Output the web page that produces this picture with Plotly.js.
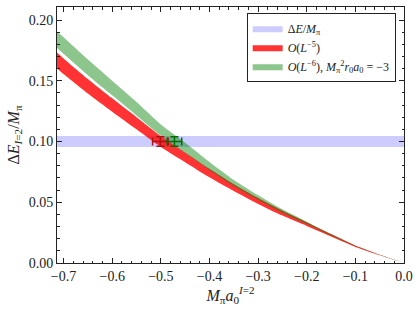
<!DOCTYPE html>
<html>
<head>
<meta charset="utf-8">
<script src="https://cdn.plot.ly/plotly-3.0.1.min.js"></script>
<style>html,body{margin:0;padding:0;background:#fff;}#chart{width:418px;height:310px;}</style>
</head>
<body>
<div id="chart"></div>
<script>
// M_pi a0 grid
const aGrid = [-0.72, -0.7, -0.65, -0.6, -0.55, -0.5, -0.45, -0.4, -0.35, -0.3, -0.25, -0.2, -0.15, -0.1, -0.05, 0];
// O(L^-5) band
const redLow  = [0.1624, 0.1556, 0.1395, 0.1245, 0.1100, 0.0955, 0.0830, 0.0705, 0.0592, 0.0486, 0.0390, 0.0305, 0.0218, 0.0132, 0.0064, 0];
const redHigh = [0.1756, 0.1684, 0.1515, 0.1355, 0.1200, 0.1045, 0.0910, 0.0775, 0.0648, 0.0534, 0.0430, 0.0335, 0.0238, 0.0144, 0.0068, 0];
// O(L^-6), Mpi^2 r0 a0 = -3 band
const greenLow  = [0.1792, 0.1723, 0.1546, 0.1380, 0.1215, 0.1048, 0.0908, 0.0766, 0.0634, 0.0520, 0.0414, 0.0320, 0.0226, 0.0137, 0.0065, 0];
const greenHigh = [0.1928, 0.1857, 0.1674, 0.1500, 0.1325, 0.1140, 0.0990, 0.0832, 0.0684, 0.0558, 0.0442, 0.0340, 0.0238, 0.0143, 0.0069, 0];
// Delta E / M_pi measurement band
const dEX = [-0.75, 0.05];
const dELow = 0.0955, dEHigh = 0.1045;
// extracted points
const ptRedX = [-0.501], ptRedY = [0.100], ptRedXerr = [0.016], ptRedYerr = [0.004];
const ptGreenX = [-0.472], ptGreenY = [0.100], ptGreenXerr = [0.015], ptGreenYerr = [0.004];
// tick labels
const xTicks = [-0.7, -0.6, -0.5, -0.4, -0.3, -0.2, -0.1, 0.0];
const xTickText = ['−0.7', '−0.6', '−0.5', '−0.4', '−0.3', '−0.2', '−0.1', '0.0'];
const yTicks = [0, 0.05, 0.10, 0.15, 0.20];
const yTickText = ['0.00', '0.05', '0.10', '0.15', '0.20'];

function band(x, lo, hi) {
  return { x: x.concat(x.slice().reverse()), y: hi.concat(lo.slice().reverse()) };
}
const rb = band(aGrid, redLow, redHigh);
const gb = band(aGrid, greenLow, greenHigh);
const bb = band(dEX, [dELow, dELow], [dEHigh, dEHigh]);

const serif = 'Liberation Serif, DejaVu Serif, serif';
const traces = [
  { x: bb.x, y: bb.y, type: 'scatter', mode: 'lines', fill: 'toself', fillcolor: 'rgba(0,0,255,0.2)',
    line: { width: 0, color: 'rgba(0,0,255,0.2)' }, name: 'Δ<i>E</i>/<i>M</i><sub>π</sub>', legendrank: 1, hoverinfo: 'skip' },
  { x: rb.x, y: rb.y, type: 'scatter', mode: 'lines', fill: 'toself', fillcolor: 'rgba(255,0,0,0.8)',
    line: { width: 0, color: 'rgba(255,0,0,0.8)', shape: 'spline', smoothing: 0.6 }, name: '<i>O</i>(<i>L</i><sup>−5</sup>)', legendrank: 2, hoverinfo: 'skip' },
  { x: gb.x, y: gb.y, type: 'scatter', mode: 'lines', fill: 'toself', fillcolor: 'rgba(0,128,0,0.45)',
    line: { width: 0, color: 'rgba(0,128,0,0.45)', shape: 'spline', smoothing: 0.6 }, name: '<i>O</i>(<i>L</i><sup>−6</sup>), <i>M</i><sub>π</sub><sup>2</sup><i>r</i><sub>0</sub><i>a</i><sub>0</sub> = −3', legendrank: 3, hoverinfo: 'skip' },
  { x: ptRedX, y: ptRedY, type: 'scatter', mode: 'markers', marker: { size: 1, color: '#b01010' }, showlegend: false,
    error_x: { type: 'data', array: ptRedXerr, color: '#b01010', thickness: 1.5, width: 4 },
    error_y: { type: 'data', array: ptRedYerr, color: '#b01010', thickness: 1.5, width: 4 } },
  { x: ptGreenX, y: ptGreenY, type: 'scatter', mode: 'markers', marker: { size: 1, color: '#007000' }, showlegend: false,
    error_x: { type: 'data', array: ptGreenXerr, color: '#007000', thickness: 1.5, width: 4 },
    error_y: { type: 'data', array: ptGreenYerr, color: '#007000', thickness: 1.5, width: 4 } }
];

const axisCommon = {
  showgrid: false, zeroline: false, showline: true, linecolor: '#222', linewidth: 1, mirror: 'allticks',
  ticks: 'inside', ticklen: 5, tickwidth: 1, tickcolor: '#222',
  tickfont: { family: serif, size: 14, color: '#222' },
};
const layout = {
  width: 418, height: 310,
  margin: { l: 57, r: 14, t: 7, b: 47 },
  paper_bgcolor: '#fff', plot_bgcolor: '#fff',
  showlegend: true,
  xaxis: Object.assign({}, axisCommon, {
    range: [-0.7135, 0.0], tickvals: xTicks, ticktext: xTickText,
    minor: { dtick: 0.02, tick0: 0, ticks: 'inside', ticklen: 2.5, tickcolor: '#222', showgrid: false },
    title: { text: '<i>M</i><sub>π</sub><i>a</i><sub>0</sub><sup><i>I</i>=2</sup>', font: { family: serif, size: 16, color: '#222' }, standoff: 4 }
  }),
  yaxis: Object.assign({}, axisCommon, {
    range: [0, 0.2107], tickvals: yTicks, ticktext: yTickText,
    minor: { dtick: 0.01, tick0: 0, ticks: 'inside', ticklen: 2.5, tickcolor: '#222', showgrid: false },
    title: { text: 'Δ<i>E</i><sub><i>I</i>=2</sub>/<i>M</i><sub>π</sub>', font: { family: serif, size: 16, color: '#222' }, standoff: 5 }
  }),
  legend: {
    x: 0.976, y: 0.978, xanchor: 'right', yanchor: 'top',
    bgcolor: '#fff', bordercolor: '#222', borderwidth: 1,
    font: { family: serif, size: 12, color: '#222' },
    tracegroupgap: 0, itemwidth: 30
  }
};
Plotly.newPlot('chart', traces, layout, { staticPlot: true, displayModeBar: false });
</script>
</body>
</html>
